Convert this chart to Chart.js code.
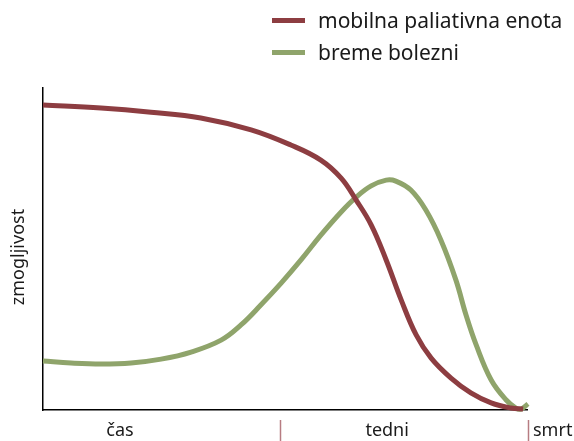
<!DOCTYPE html>
<html><head><meta charset="utf-8">
<script src="https://cdn.jsdelivr.net/npm/chart.js@4.4.0/dist/chart.umd.min.js"></script>
<style>
html,body{margin:0;padding:0;background:#fff;}
#wrap{position:relative;width:574px;height:441px;}
#legend{position:absolute;left:272px;top:4px;font-family:"Noto Sans",sans-serif;font-size:21px;color:#1a1a1a;}
.item{display:flex;align-items:center;height:32px;}
.sw{width:33px;height:5px;margin-right:13px;}
</style></head><body>
<div id="wrap"><canvas id="c" width="574" height="441"></canvas>
<div id="legend">
<div class="item"><span class="sw" style="background:#8d3d41"></span>mobilna paliativna enota</div>
<div class="item"><span class="sw" style="background:#8fa46b"></span>breme bolezni</div>
</div></div>
<script>
const seriesNames = ["mobilna paliativna enota", "breme bolezni"];
const redX = [0,12.0,22.3,32.6,43.0,51.2,57.4,61.6,64.7,67.8,70.9,74.0,77.1,80.2,84.3,88.4,92.6,96.7,99.2];
const redY = [94.7,93.8,92.5,90.7,87.0,82.3,77.6,72.0,65.2,57.5,46.6,34.2,23.3,16.1,9.9,5.3,2.2,0.6,0.3];
const greenX = [0,5.8,12.0,18.2,24.4,30.6,36.8,40.9,45.0,49.2,53.3,57.4,61.6,64.7,67.8,70.9,72.9,76.0,79.1,82.2,85.3,87.4,89.5,92.6,95.7,97.7,98.8,100.2];
const greenY = [15.2,14.6,14.3,14.6,15.8,18.0,21.7,26.4,32.6,39.4,46.6,54.3,61.5,66.1,69.6,71.4,71.1,68.3,62.1,52.8,40.4,29.5,20.2,9.3,3.1,0.6,0.3,1.9];
const xLabels = ["čas","tedni","smrt"];
const xLabelPos = [15.9, 71.1, 101.8];
const separators = [49.0, 100.2];
const yTitle = "zmogljivost";

const pts = (xs, ys) => xs.map((x,i)=>({x, y: ys[i]}));

const extras = {
  id:'extras',
  afterDraw(chart){
    const ctx = chart.ctx, xs = chart.scales.x, ca = chart.chartArea;
    ctx.save();
    ctx.strokeStyle = '#b77c82'; ctx.lineWidth = 1.5;
    separators.forEach(v=>{
      const px = Math.round(xs.getPixelForValue(v))+0.5;
      ctx.beginPath(); ctx.moveTo(px, ca.bottom+10); ctx.lineTo(px, 441); ctx.stroke();
    });
    ctx.fillStyle = '#1a1a1a';
    ctx.font = '18px "Noto Sans", sans-serif';
    ctx.textBaseline = 'middle';
    xLabels.forEach((t,i)=>{
      const px = xs.getPixelForValue(xLabelPos[i]);
      ctx.textAlign = i===2 ? 'left' : 'center';
      ctx.fillText(t, i===2 ? 533 : px, 431);
    });
    ctx.translate(19, 257); ctx.rotate(-Math.PI/2);
    ctx.textAlign = 'center';
    ctx.font = '18px "Noto Sans", sans-serif';
    ctx.fillText(yTitle, 0, 0);
    ctx.restore();
  }
};

new Chart(document.getElementById('c'), {
  type:'line',
  data:{datasets:[
    {label:seriesNames[0], data:pts(redX,redY), borderColor:'#8d3d41', borderWidth:5, pointRadius:0, tension:0.4, clip:false},
    {label:seriesNames[1], data:pts(greenX,greenY), borderColor:'#8fa46b', borderWidth:5, pointRadius:0, tension:0.4, clip:false}
  ]},
  options:{
    responsive:false, animation:false,
    layout:{padding:{left:35, right:47, top:88, bottom:23}},
    plugins:{legend:{display:false}, tooltip:{enabled:false}},
    scales:{
      x:{type:'linear', min:0, max:100, grid:{display:false}, ticks:{display:false}, border:{display:true,color:'#000',width:1.5}},
      y:{min:0, max:100, grid:{display:false}, ticks:{display:false}, border:{display:true,color:'#000',width:1.5}}
    }
  },
  plugins:[extras]
});
</script></body></html>
